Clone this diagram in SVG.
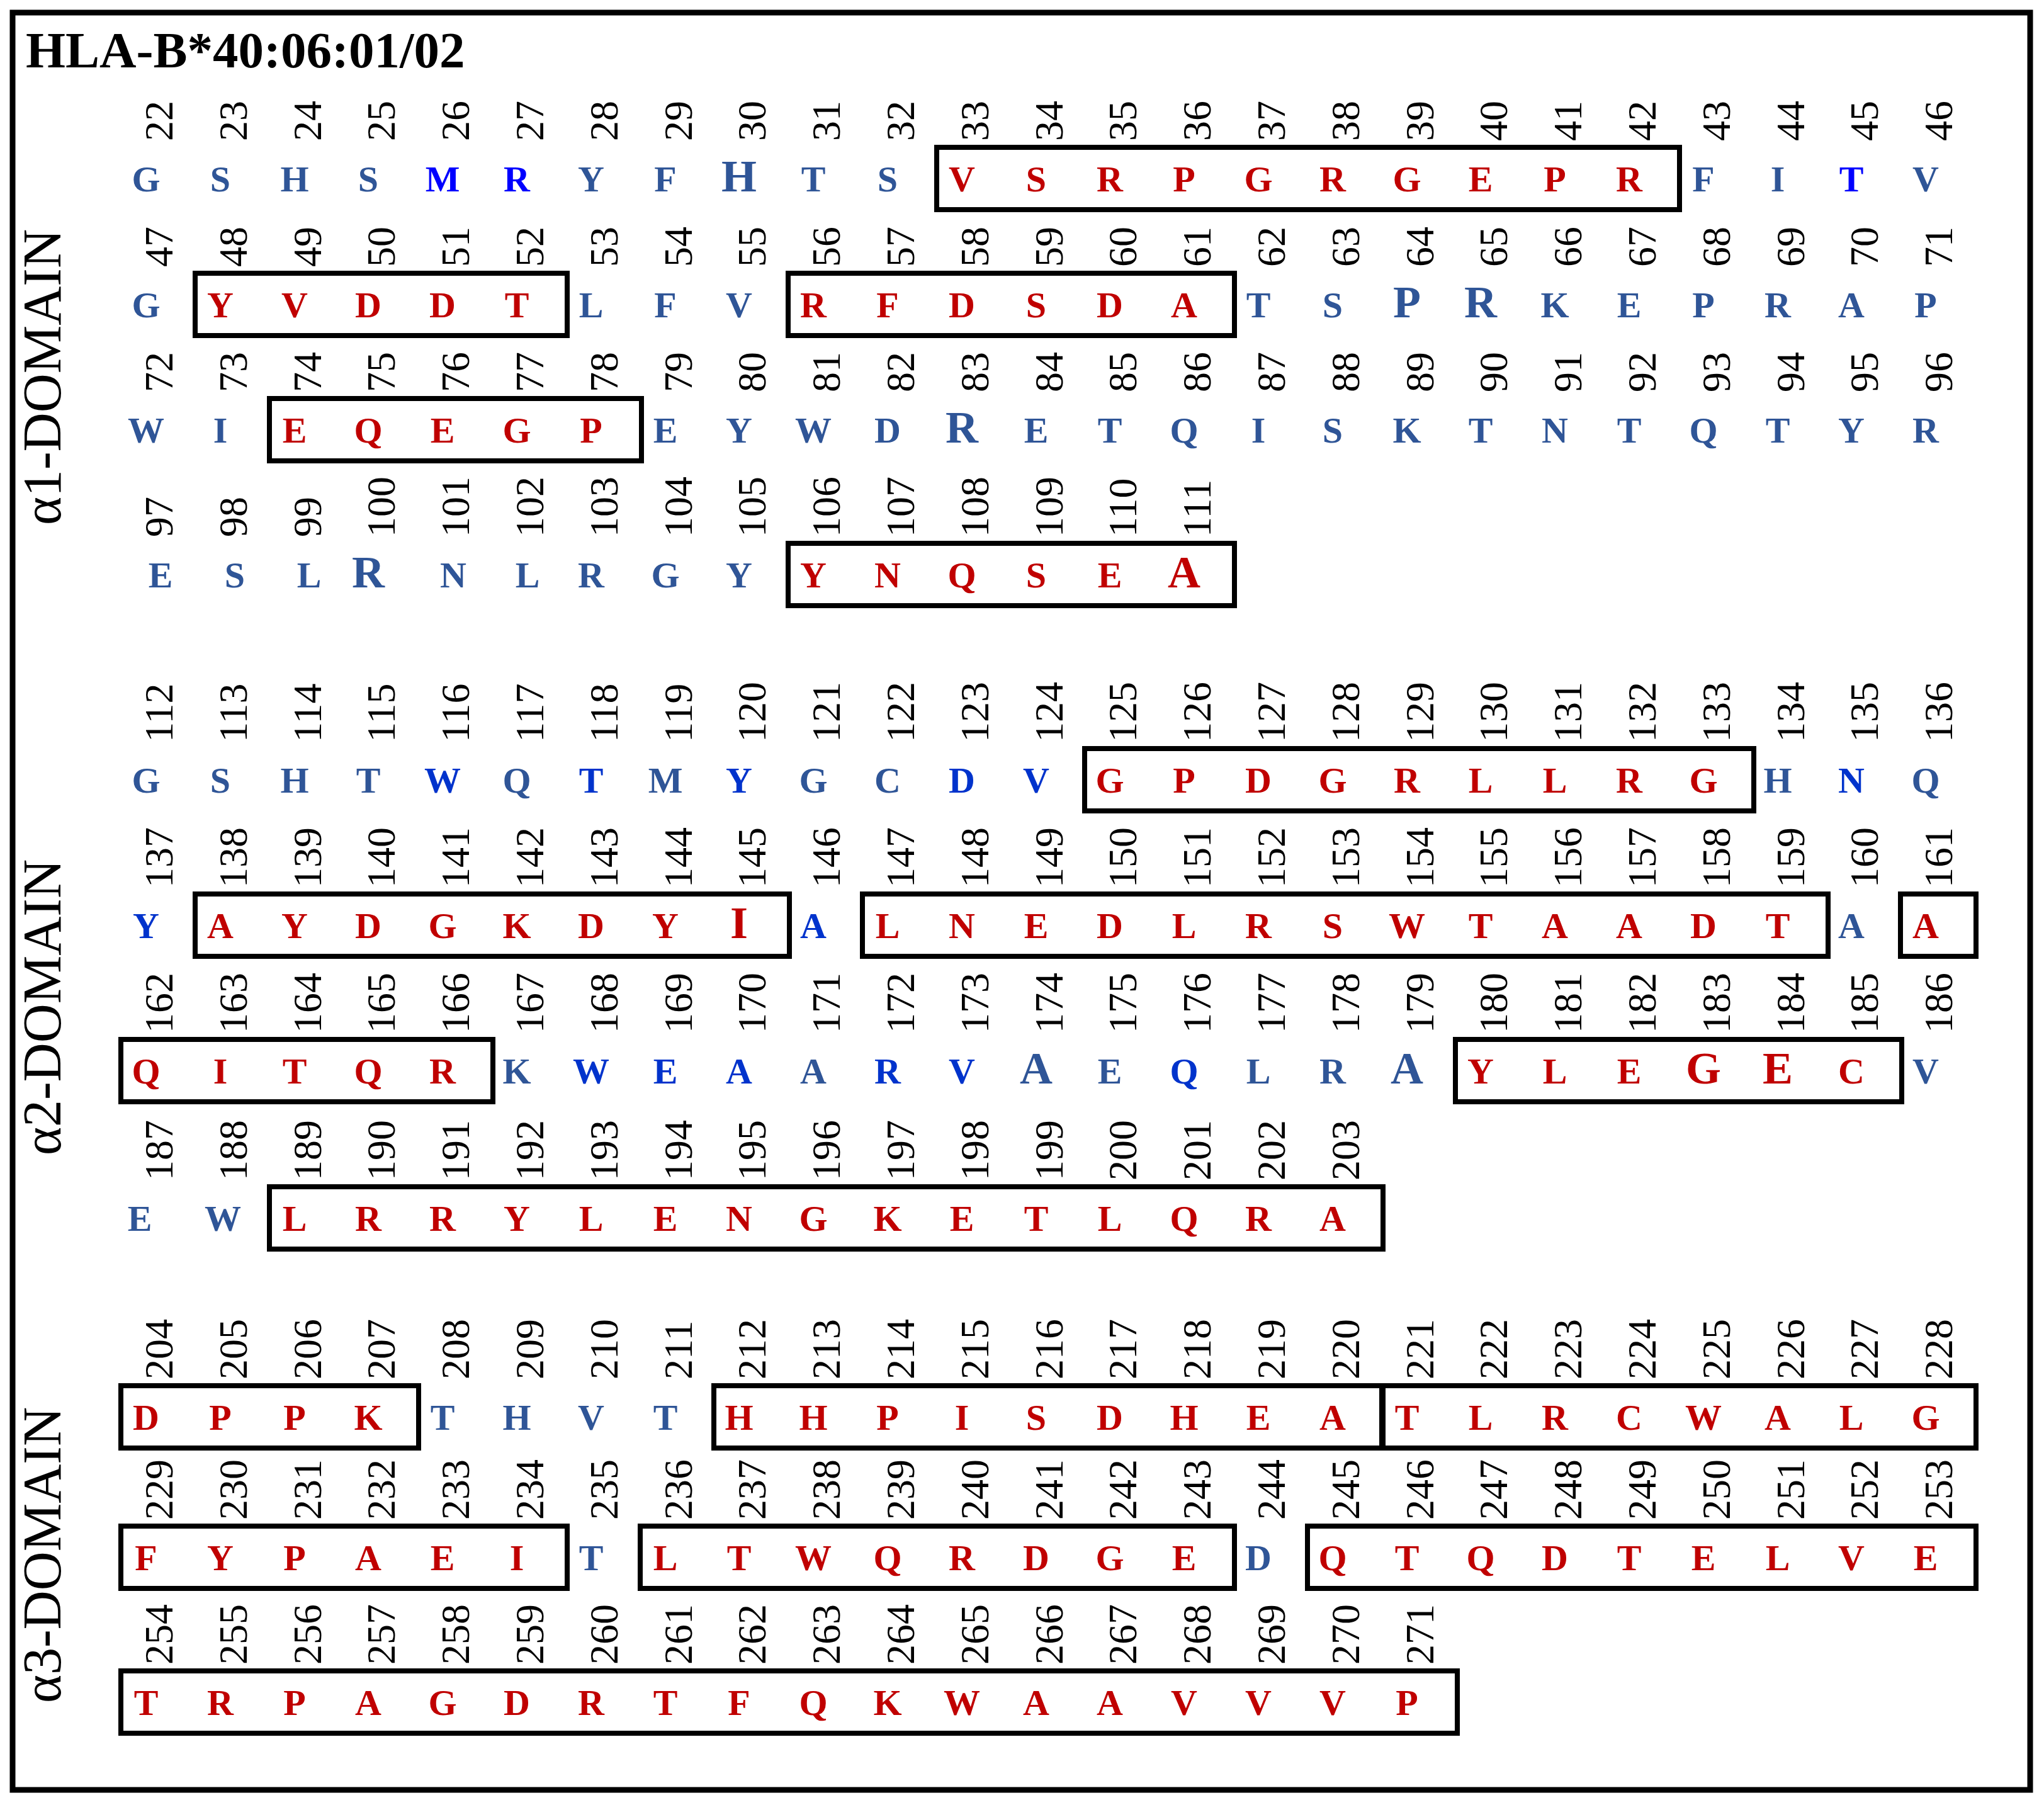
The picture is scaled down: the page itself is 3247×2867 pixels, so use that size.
<svg xmlns="http://www.w3.org/2000/svg" width="3247" height="2867" viewBox="0 0 3247 2867">
<style>
.l{font-family:"Liberation Serif",serif;font-weight:bold;font-size:58px;text-anchor:middle}
.L{font-size:72px}
.r{fill:#C00000}.b{fill:#2F5597}.m{fill:#0033CC}.u{fill:#0000FF}
.n{font-family:"Liberation Serif",serif;font-size:64px;fill:#000}
.bx{fill:none;stroke:#000;stroke-width:8}
.d{font-family:"Liberation Serif",serif;font-size:86px;text-anchor:middle;fill:#000}
</style>
<rect x="0" y="0" width="3247" height="2867" fill="#fff"/>
<rect x="20" y="20" width="3205" height="2823" fill="none" stroke="#000" stroke-width="9"/>
<text x="41" y="107" font-family="Liberation Serif,serif" font-weight="bold" font-size="81">HLA-B*40:06:01/02</text>
<text class="d" transform="translate(96 599) rotate(-90)">α1-DOMAIN</text>
<text class="d" transform="translate(96 1600) rotate(-90)">α2-DOMAIN</text>
<text class="d" transform="translate(96 2470) rotate(-90)">α3-DOMAIN</text>
<g id="boxes">
<rect class="bx" x="1488" y="234" width="1180" height="99"/>
<rect class="bx" x="310" y="434" width="591" height="99"/>
<rect class="bx" x="1252" y="434" width="709" height="99"/>
<rect class="bx" x="428" y="633" width="591" height="99"/>
<rect class="bx" x="1252" y="863" width="709" height="99"/>
<rect class="bx" x="1723" y="1189" width="1063" height="99"/>
<rect class="bx" x="310" y="1420" width="944" height="99"/>
<rect class="bx" x="1370" y="1420" width="1534" height="99"/>
<rect class="bx" x="3019" y="1420" width="120" height="99"/>
<rect class="bx" x="192" y="1651" width="591" height="99"/>
<rect class="bx" x="2312" y="1651" width="709" height="99"/>
<rect class="bx" x="428" y="1885" width="1769" height="99"/>
<rect class="bx" x="192" y="2201" width="473" height="99"/>
<rect class="bx" x="1134" y="2201" width="1063" height="99"/>
<rect class="bx" x="2195" y="2201" width="944" height="99"/>
<rect class="bx" x="192" y="2424" width="709" height="99"/>
<rect class="bx" x="1017" y="2424" width="944" height="99"/>
<rect class="bx" x="2077" y="2424" width="1062" height="99"/>
<rect class="bx" x="192" y="2654" width="2123" height="99"/>
</g>
<g id="a1-row1">
<g class="n">
<text transform="translate(274 224) rotate(-90)">22</text><text transform="translate(392 224) rotate(-90)">23</text><text transform="translate(510 224) rotate(-90)">24</text><text transform="translate(627 224) rotate(-90)">25</text><text transform="translate(745 224) rotate(-90)">26</text><text transform="translate(863 224) rotate(-90)">27</text><text transform="translate(981 224) rotate(-90)">28</text><text transform="translate(1099 224) rotate(-90)">29</text><text transform="translate(1216 224) rotate(-90)">30</text><text transform="translate(1334 224) rotate(-90)">31</text><text transform="translate(1452 224) rotate(-90)">32</text><text transform="translate(1570 224) rotate(-90)">33</text><text transform="translate(1688 224) rotate(-90)">34</text><text transform="translate(1805 224) rotate(-90)">35</text><text transform="translate(1923 224) rotate(-90)">36</text><text transform="translate(2041 224) rotate(-90)">37</text><text transform="translate(2159 224) rotate(-90)">38</text><text transform="translate(2277 224) rotate(-90)">39</text><text transform="translate(2394 224) rotate(-90)">40</text><text transform="translate(2512 224) rotate(-90)">41</text><text transform="translate(2630 224) rotate(-90)">42</text><text transform="translate(2748 224) rotate(-90)">43</text><text transform="translate(2866 224) rotate(-90)">44</text><text transform="translate(2983 224) rotate(-90)">45</text><text transform="translate(3101 224) rotate(-90)">46</text>
</g>
<text class="l b" x="232" y="304">G</text><text class="l b" x="350" y="304">S</text><text class="l b" x="468" y="304">H</text><text class="l b" x="585" y="304">S</text><text class="l u" x="703" y="304">M</text><text class="l u" x="821" y="304">R</text><text class="l b" x="939" y="304">Y</text><text class="l b" x="1057" y="304">F</text><text class="l b L" x="1174" y="304">H</text><text class="l b" x="1292" y="304">T</text><text class="l b" x="1410" y="304">S</text><text class="l r" x="1528" y="304">V</text><text class="l r" x="1646" y="304">S</text><text class="l r" x="1763" y="304">R</text><text class="l r" x="1881" y="304">P</text><text class="l r" x="1999" y="304">G</text><text class="l r" x="2117" y="304">R</text><text class="l r" x="2235" y="304">G</text><text class="l r" x="2352" y="304">E</text><text class="l r" x="2470" y="304">P</text><text class="l r" x="2588" y="304">R</text><text class="l b" x="2706" y="304">F</text><text class="l b" x="2824" y="304">I</text><text class="l u" x="2941" y="304">T</text><text class="l b" x="3059" y="304">V</text>
</g>
<g id="a1-row2">
<g class="n">
<text transform="translate(274 424) rotate(-90)">47</text><text transform="translate(392 424) rotate(-90)">48</text><text transform="translate(510 424) rotate(-90)">49</text><text transform="translate(627 424) rotate(-90)">50</text><text transform="translate(745 424) rotate(-90)">51</text><text transform="translate(863 424) rotate(-90)">52</text><text transform="translate(981 424) rotate(-90)">53</text><text transform="translate(1099 424) rotate(-90)">54</text><text transform="translate(1216 424) rotate(-90)">55</text><text transform="translate(1334 424) rotate(-90)">56</text><text transform="translate(1452 424) rotate(-90)">57</text><text transform="translate(1570 424) rotate(-90)">58</text><text transform="translate(1688 424) rotate(-90)">59</text><text transform="translate(1805 424) rotate(-90)">60</text><text transform="translate(1923 424) rotate(-90)">61</text><text transform="translate(2041 424) rotate(-90)">62</text><text transform="translate(2159 424) rotate(-90)">63</text><text transform="translate(2277 424) rotate(-90)">64</text><text transform="translate(2394 424) rotate(-90)">65</text><text transform="translate(2512 424) rotate(-90)">66</text><text transform="translate(2630 424) rotate(-90)">67</text><text transform="translate(2748 424) rotate(-90)">68</text><text transform="translate(2866 424) rotate(-90)">69</text><text transform="translate(2983 424) rotate(-90)">70</text><text transform="translate(3101 424) rotate(-90)">71</text>
</g>
<text class="l b" x="232" y="504">G</text><text class="l r" x="350" y="504">Y</text><text class="l r" x="468" y="504">V</text><text class="l r" x="585" y="504">D</text><text class="l r" x="703" y="504">D</text><text class="l r" x="821" y="504">T</text><text class="l b" x="939" y="504">L</text><text class="l b" x="1057" y="504">F</text><text class="l b" x="1174" y="504">V</text><text class="l r" x="1292" y="504">R</text><text class="l r" x="1410" y="504">F</text><text class="l r" x="1528" y="504">D</text><text class="l r" x="1646" y="504">S</text><text class="l r" x="1763" y="504">D</text><text class="l r" x="1881" y="504">A</text><text class="l b" x="1999" y="504">T</text><text class="l b" x="2117" y="504">S</text><text class="l b L" x="2235" y="504">P</text><text class="l b L" x="2352" y="504">R</text><text class="l b" x="2470" y="504">K</text><text class="l b" x="2588" y="504">E</text><text class="l b" x="2706" y="504">P</text><text class="l b" x="2824" y="504">R</text><text class="l b" x="2941" y="504">A</text><text class="l b" x="3059" y="504">P</text>
</g>
<g id="a1-row3">
<g class="n">
<text transform="translate(274 623) rotate(-90)">72</text><text transform="translate(392 623) rotate(-90)">73</text><text transform="translate(510 623) rotate(-90)">74</text><text transform="translate(627 623) rotate(-90)">75</text><text transform="translate(745 623) rotate(-90)">76</text><text transform="translate(863 623) rotate(-90)">77</text><text transform="translate(981 623) rotate(-90)">78</text><text transform="translate(1099 623) rotate(-90)">79</text><text transform="translate(1216 623) rotate(-90)">80</text><text transform="translate(1334 623) rotate(-90)">81</text><text transform="translate(1452 623) rotate(-90)">82</text><text transform="translate(1570 623) rotate(-90)">83</text><text transform="translate(1688 623) rotate(-90)">84</text><text transform="translate(1805 623) rotate(-90)">85</text><text transform="translate(1923 623) rotate(-90)">86</text><text transform="translate(2041 623) rotate(-90)">87</text><text transform="translate(2159 623) rotate(-90)">88</text><text transform="translate(2277 623) rotate(-90)">89</text><text transform="translate(2394 623) rotate(-90)">90</text><text transform="translate(2512 623) rotate(-90)">91</text><text transform="translate(2630 623) rotate(-90)">92</text><text transform="translate(2748 623) rotate(-90)">93</text><text transform="translate(2866 623) rotate(-90)">94</text><text transform="translate(2983 623) rotate(-90)">95</text><text transform="translate(3101 623) rotate(-90)">96</text>
</g>
<text class="l b" x="232" y="703">W</text><text class="l b" x="350" y="703">I</text><text class="l r" x="468" y="703">E</text><text class="l r" x="585" y="703">Q</text><text class="l r" x="703" y="703">E</text><text class="l r" x="821" y="703">G</text><text class="l r" x="939" y="703">P</text><text class="l b" x="1057" y="703">E</text><text class="l b" x="1174" y="703">Y</text><text class="l b" x="1292" y="703">W</text><text class="l b" x="1410" y="703">D</text><text class="l b L" x="1528" y="703">R</text><text class="l b" x="1646" y="703">E</text><text class="l b" x="1763" y="703">T</text><text class="l b" x="1881" y="703">Q</text><text class="l b" x="1999" y="703">I</text><text class="l b" x="2117" y="703">S</text><text class="l b" x="2235" y="703">K</text><text class="l b" x="2352" y="703">T</text><text class="l b" x="2470" y="703">N</text><text class="l b" x="2588" y="703">T</text><text class="l b" x="2706" y="703">Q</text><text class="l b" x="2824" y="703">T</text><text class="l b" x="2941" y="703">Y</text><text class="l b" x="3059" y="703">R</text>
</g>
<g id="a1-row4">
<g class="n">
<text transform="translate(274 853) rotate(-90)">97</text><text transform="translate(392 853) rotate(-90)">98</text><text transform="translate(510 853) rotate(-90)">99</text><text transform="translate(627 853) rotate(-90)">100</text><text transform="translate(745 853) rotate(-90)">101</text><text transform="translate(863 853) rotate(-90)">102</text><text transform="translate(981 853) rotate(-90)">103</text><text transform="translate(1099 853) rotate(-90)">104</text><text transform="translate(1216 853) rotate(-90)">105</text><text transform="translate(1334 853) rotate(-90)">106</text><text transform="translate(1452 853) rotate(-90)">107</text><text transform="translate(1570 853) rotate(-90)">108</text><text transform="translate(1688 853) rotate(-90)">109</text><text transform="translate(1805 853) rotate(-90)">110</text><text transform="translate(1923 853) rotate(-90)">111</text>
</g>
<text class="l b" x="255" y="933">E</text><text class="l b" x="373" y="933">S</text><text class="l b" x="491" y="933">L</text><text class="l b L" x="585" y="933">R</text><text class="l b" x="720" y="933">N</text><text class="l b" x="838" y="933">L</text><text class="l b" x="939" y="933">R</text><text class="l b" x="1057" y="933">G</text><text class="l b" x="1174" y="933">Y</text><text class="l r" x="1292" y="933">Y</text><text class="l r" x="1410" y="933">N</text><text class="l r" x="1528" y="933">Q</text><text class="l r" x="1646" y="933">S</text><text class="l r" x="1763" y="933">E</text><text class="l r L" x="1881" y="933">A</text>
</g>
<g id="a2-row1">
<g class="n">
<text transform="translate(274 1179) rotate(-90)">112</text><text transform="translate(392 1179) rotate(-90)">113</text><text transform="translate(510 1179) rotate(-90)">114</text><text transform="translate(627 1179) rotate(-90)">115</text><text transform="translate(745 1179) rotate(-90)">116</text><text transform="translate(863 1179) rotate(-90)">117</text><text transform="translate(981 1179) rotate(-90)">118</text><text transform="translate(1099 1179) rotate(-90)">119</text><text transform="translate(1216 1179) rotate(-90)">120</text><text transform="translate(1334 1179) rotate(-90)">121</text><text transform="translate(1452 1179) rotate(-90)">122</text><text transform="translate(1570 1179) rotate(-90)">123</text><text transform="translate(1688 1179) rotate(-90)">124</text><text transform="translate(1805 1179) rotate(-90)">125</text><text transform="translate(1923 1179) rotate(-90)">126</text><text transform="translate(2041 1179) rotate(-90)">127</text><text transform="translate(2159 1179) rotate(-90)">128</text><text transform="translate(2277 1179) rotate(-90)">129</text><text transform="translate(2394 1179) rotate(-90)">130</text><text transform="translate(2512 1179) rotate(-90)">131</text><text transform="translate(2630 1179) rotate(-90)">132</text><text transform="translate(2748 1179) rotate(-90)">133</text><text transform="translate(2866 1179) rotate(-90)">134</text><text transform="translate(2983 1179) rotate(-90)">135</text><text transform="translate(3101 1179) rotate(-90)">136</text>
</g>
<text class="l b" x="232" y="1259">G</text><text class="l b" x="350" y="1259">S</text><text class="l b" x="468" y="1259">H</text><text class="l b" x="585" y="1259">T</text><text class="l m" x="703" y="1259">W</text><text class="l b" x="821" y="1259">Q</text><text class="l m" x="939" y="1259">T</text><text class="l b" x="1057" y="1259">M</text><text class="l m" x="1174" y="1259">Y</text><text class="l b" x="1292" y="1259">G</text><text class="l b" x="1410" y="1259">C</text><text class="l m" x="1528" y="1259">D</text><text class="l m" x="1646" y="1259">V</text><text class="l r" x="1763" y="1259">G</text><text class="l r" x="1881" y="1259">P</text><text class="l r" x="1999" y="1259">D</text><text class="l r" x="2117" y="1259">G</text><text class="l r" x="2235" y="1259">R</text><text class="l r" x="2352" y="1259">L</text><text class="l r" x="2470" y="1259">L</text><text class="l r" x="2588" y="1259">R</text><text class="l r" x="2706" y="1259">G</text><text class="l b" x="2824" y="1259">H</text><text class="l m" x="2941" y="1259">N</text><text class="l b" x="3059" y="1259">Q</text>
</g>
<g id="a2-row2">
<g class="n">
<text transform="translate(274 1410) rotate(-90)">137</text><text transform="translate(392 1410) rotate(-90)">138</text><text transform="translate(510 1410) rotate(-90)">139</text><text transform="translate(627 1410) rotate(-90)">140</text><text transform="translate(745 1410) rotate(-90)">141</text><text transform="translate(863 1410) rotate(-90)">142</text><text transform="translate(981 1410) rotate(-90)">143</text><text transform="translate(1099 1410) rotate(-90)">144</text><text transform="translate(1216 1410) rotate(-90)">145</text><text transform="translate(1334 1410) rotate(-90)">146</text><text transform="translate(1452 1410) rotate(-90)">147</text><text transform="translate(1570 1410) rotate(-90)">148</text><text transform="translate(1688 1410) rotate(-90)">149</text><text transform="translate(1805 1410) rotate(-90)">150</text><text transform="translate(1923 1410) rotate(-90)">151</text><text transform="translate(2041 1410) rotate(-90)">152</text><text transform="translate(2159 1410) rotate(-90)">153</text><text transform="translate(2277 1410) rotate(-90)">154</text><text transform="translate(2394 1410) rotate(-90)">155</text><text transform="translate(2512 1410) rotate(-90)">156</text><text transform="translate(2630 1410) rotate(-90)">157</text><text transform="translate(2748 1410) rotate(-90)">158</text><text transform="translate(2866 1410) rotate(-90)">159</text><text transform="translate(2983 1410) rotate(-90)">160</text><text transform="translate(3101 1410) rotate(-90)">161</text>
</g>
<text class="l m" x="232" y="1490">Y</text><text class="l r" x="350" y="1490">A</text><text class="l r" x="468" y="1490">Y</text><text class="l r" x="585" y="1490">D</text><text class="l r" x="703" y="1490">G</text><text class="l r" x="821" y="1490">K</text><text class="l r" x="939" y="1490">D</text><text class="l r" x="1057" y="1490">Y</text><text class="l r L" x="1174" y="1490">I</text><text class="l m" x="1292" y="1490">A</text><text class="l r" x="1410" y="1490">L</text><text class="l r" x="1528" y="1490">N</text><text class="l r" x="1646" y="1490">E</text><text class="l r" x="1763" y="1490">D</text><text class="l r" x="1881" y="1490">L</text><text class="l r" x="1999" y="1490">R</text><text class="l r" x="2117" y="1490">S</text><text class="l r" x="2235" y="1490">W</text><text class="l r" x="2352" y="1490">T</text><text class="l r" x="2470" y="1490">A</text><text class="l r" x="2588" y="1490">A</text><text class="l r" x="2706" y="1490">D</text><text class="l r" x="2824" y="1490">T</text><text class="l b" x="2941" y="1490">A</text><text class="l r" x="3059" y="1490">A</text>
</g>
<g id="a2-row3">
<g class="n">
<text transform="translate(274 1641) rotate(-90)">162</text><text transform="translate(392 1641) rotate(-90)">163</text><text transform="translate(510 1641) rotate(-90)">164</text><text transform="translate(627 1641) rotate(-90)">165</text><text transform="translate(745 1641) rotate(-90)">166</text><text transform="translate(863 1641) rotate(-90)">167</text><text transform="translate(981 1641) rotate(-90)">168</text><text transform="translate(1099 1641) rotate(-90)">169</text><text transform="translate(1216 1641) rotate(-90)">170</text><text transform="translate(1334 1641) rotate(-90)">171</text><text transform="translate(1452 1641) rotate(-90)">172</text><text transform="translate(1570 1641) rotate(-90)">173</text><text transform="translate(1688 1641) rotate(-90)">174</text><text transform="translate(1805 1641) rotate(-90)">175</text><text transform="translate(1923 1641) rotate(-90)">176</text><text transform="translate(2041 1641) rotate(-90)">177</text><text transform="translate(2159 1641) rotate(-90)">178</text><text transform="translate(2277 1641) rotate(-90)">179</text><text transform="translate(2394 1641) rotate(-90)">180</text><text transform="translate(2512 1641) rotate(-90)">181</text><text transform="translate(2630 1641) rotate(-90)">182</text><text transform="translate(2748 1641) rotate(-90)">183</text><text transform="translate(2866 1641) rotate(-90)">184</text><text transform="translate(2983 1641) rotate(-90)">185</text><text transform="translate(3101 1641) rotate(-90)">186</text>
</g>
<text class="l r" x="232" y="1721">Q</text><text class="l r" x="350" y="1721">I</text><text class="l r" x="468" y="1721">T</text><text class="l r" x="585" y="1721">Q</text><text class="l r" x="703" y="1721">R</text><text class="l b" x="821" y="1721">K</text><text class="l m" x="939" y="1721">W</text><text class="l m" x="1057" y="1721">E</text><text class="l m" x="1174" y="1721">A</text><text class="l b" x="1292" y="1721">A</text><text class="l m" x="1410" y="1721">R</text><text class="l m" x="1528" y="1721">V</text><text class="l b L" x="1646" y="1721">A</text><text class="l b" x="1763" y="1721">E</text><text class="l m" x="1881" y="1721">Q</text><text class="l b" x="1999" y="1721">L</text><text class="l b" x="2117" y="1721">R</text><text class="l b L" x="2235" y="1721">A</text><text class="l r" x="2352" y="1721">Y</text><text class="l r" x="2470" y="1721">L</text><text class="l r" x="2588" y="1721">E</text><text class="l r L" x="2706" y="1721">G</text><text class="l r L" x="2824" y="1721">E</text><text class="l r" x="2941" y="1721">C</text><text class="l b" x="3059" y="1721">V</text>
</g>
<g id="a2-row4">
<g class="n">
<text transform="translate(274 1875) rotate(-90)">187</text><text transform="translate(392 1875) rotate(-90)">188</text><text transform="translate(510 1875) rotate(-90)">189</text><text transform="translate(627 1875) rotate(-90)">190</text><text transform="translate(745 1875) rotate(-90)">191</text><text transform="translate(863 1875) rotate(-90)">192</text><text transform="translate(981 1875) rotate(-90)">193</text><text transform="translate(1099 1875) rotate(-90)">194</text><text transform="translate(1216 1875) rotate(-90)">195</text><text transform="translate(1334 1875) rotate(-90)">196</text><text transform="translate(1452 1875) rotate(-90)">197</text><text transform="translate(1570 1875) rotate(-90)">198</text><text transform="translate(1688 1875) rotate(-90)">199</text><text transform="translate(1805 1875) rotate(-90)">200</text><text transform="translate(1923 1875) rotate(-90)">201</text><text transform="translate(2041 1875) rotate(-90)">202</text><text transform="translate(2159 1875) rotate(-90)">203</text>
</g>
<text class="l b" x="222" y="1955">E</text><text class="l b" x="354" y="1955">W</text><text class="l r" x="468" y="1955">L</text><text class="l r" x="585" y="1955">R</text><text class="l r" x="703" y="1955">R</text><text class="l r" x="821" y="1955">Y</text><text class="l r" x="939" y="1955">L</text><text class="l r" x="1057" y="1955">E</text><text class="l r" x="1174" y="1955">N</text><text class="l r" x="1292" y="1955">G</text><text class="l r" x="1410" y="1955">K</text><text class="l r" x="1528" y="1955">E</text><text class="l r" x="1646" y="1955">T</text><text class="l r" x="1763" y="1955">L</text><text class="l r" x="1881" y="1955">Q</text><text class="l r" x="1999" y="1955">R</text><text class="l r" x="2117" y="1955">A</text>
</g>
<g id="a3-row1">
<g class="n">
<text transform="translate(274 2191) rotate(-90)">204</text><text transform="translate(392 2191) rotate(-90)">205</text><text transform="translate(510 2191) rotate(-90)">206</text><text transform="translate(627 2191) rotate(-90)">207</text><text transform="translate(745 2191) rotate(-90)">208</text><text transform="translate(863 2191) rotate(-90)">209</text><text transform="translate(981 2191) rotate(-90)">210</text><text transform="translate(1099 2191) rotate(-90)">211</text><text transform="translate(1216 2191) rotate(-90)">212</text><text transform="translate(1334 2191) rotate(-90)">213</text><text transform="translate(1452 2191) rotate(-90)">214</text><text transform="translate(1570 2191) rotate(-90)">215</text><text transform="translate(1688 2191) rotate(-90)">216</text><text transform="translate(1805 2191) rotate(-90)">217</text><text transform="translate(1923 2191) rotate(-90)">218</text><text transform="translate(2041 2191) rotate(-90)">219</text><text transform="translate(2159 2191) rotate(-90)">220</text><text transform="translate(2277 2191) rotate(-90)">221</text><text transform="translate(2394 2191) rotate(-90)">222</text><text transform="translate(2512 2191) rotate(-90)">223</text><text transform="translate(2630 2191) rotate(-90)">224</text><text transform="translate(2748 2191) rotate(-90)">225</text><text transform="translate(2866 2191) rotate(-90)">226</text><text transform="translate(2983 2191) rotate(-90)">227</text><text transform="translate(3101 2191) rotate(-90)">228</text>
</g>
<text class="l r" x="232" y="2271">D</text><text class="l r" x="350" y="2271">P</text><text class="l r" x="468" y="2271">P</text><text class="l r" x="585" y="2271">K</text><text class="l b" x="703" y="2271">T</text><text class="l b" x="821" y="2271">H</text><text class="l b" x="939" y="2271">V</text><text class="l b" x="1057" y="2271">T</text><text class="l r" x="1174" y="2271">H</text><text class="l r" x="1292" y="2271">H</text><text class="l r" x="1410" y="2271">P</text><text class="l r" x="1528" y="2271">I</text><text class="l r" x="1646" y="2271">S</text><text class="l r" x="1763" y="2271">D</text><text class="l r" x="1881" y="2271">H</text><text class="l r" x="1999" y="2271">E</text><text class="l r" x="2117" y="2271">A</text><text class="l r" x="2235" y="2271">T</text><text class="l r" x="2352" y="2271">L</text><text class="l r" x="2470" y="2271">R</text><text class="l r" x="2588" y="2271">C</text><text class="l r" x="2706" y="2271">W</text><text class="l r" x="2824" y="2271">A</text><text class="l r" x="2941" y="2271">L</text><text class="l r" x="3059" y="2271">G</text>
</g>
<g id="a3-row2">
<g class="n">
<text transform="translate(274 2414) rotate(-90)">229</text><text transform="translate(392 2414) rotate(-90)">230</text><text transform="translate(510 2414) rotate(-90)">231</text><text transform="translate(627 2414) rotate(-90)">232</text><text transform="translate(745 2414) rotate(-90)">233</text><text transform="translate(863 2414) rotate(-90)">234</text><text transform="translate(981 2414) rotate(-90)">235</text><text transform="translate(1099 2414) rotate(-90)">236</text><text transform="translate(1216 2414) rotate(-90)">237</text><text transform="translate(1334 2414) rotate(-90)">238</text><text transform="translate(1452 2414) rotate(-90)">239</text><text transform="translate(1570 2414) rotate(-90)">240</text><text transform="translate(1688 2414) rotate(-90)">241</text><text transform="translate(1805 2414) rotate(-90)">242</text><text transform="translate(1923 2414) rotate(-90)">243</text><text transform="translate(2041 2414) rotate(-90)">244</text><text transform="translate(2159 2414) rotate(-90)">245</text><text transform="translate(2277 2414) rotate(-90)">246</text><text transform="translate(2394 2414) rotate(-90)">247</text><text transform="translate(2512 2414) rotate(-90)">248</text><text transform="translate(2630 2414) rotate(-90)">249</text><text transform="translate(2748 2414) rotate(-90)">250</text><text transform="translate(2866 2414) rotate(-90)">251</text><text transform="translate(2983 2414) rotate(-90)">252</text><text transform="translate(3101 2414) rotate(-90)">253</text>
</g>
<text class="l r" x="232" y="2494">F</text><text class="l r" x="350" y="2494">Y</text><text class="l r" x="468" y="2494">P</text><text class="l r" x="585" y="2494">A</text><text class="l r" x="703" y="2494">E</text><text class="l r" x="821" y="2494">I</text><text class="l b" x="939" y="2494">T</text><text class="l r" x="1057" y="2494">L</text><text class="l r" x="1174" y="2494">T</text><text class="l r" x="1292" y="2494">W</text><text class="l r" x="1410" y="2494">Q</text><text class="l r" x="1528" y="2494">R</text><text class="l r" x="1646" y="2494">D</text><text class="l r" x="1763" y="2494">G</text><text class="l r" x="1881" y="2494">E</text><text class="l b" x="1999" y="2494">D</text><text class="l r" x="2117" y="2494">Q</text><text class="l r" x="2235" y="2494">T</text><text class="l r" x="2352" y="2494">Q</text><text class="l r" x="2470" y="2494">D</text><text class="l r" x="2588" y="2494">T</text><text class="l r" x="2706" y="2494">E</text><text class="l r" x="2824" y="2494">L</text><text class="l r" x="2941" y="2494">V</text><text class="l r" x="3059" y="2494">E</text>
</g>
<g id="a3-row3">
<g class="n">
<text transform="translate(274 2644) rotate(-90)">254</text><text transform="translate(392 2644) rotate(-90)">255</text><text transform="translate(510 2644) rotate(-90)">256</text><text transform="translate(627 2644) rotate(-90)">257</text><text transform="translate(745 2644) rotate(-90)">258</text><text transform="translate(863 2644) rotate(-90)">259</text><text transform="translate(981 2644) rotate(-90)">260</text><text transform="translate(1099 2644) rotate(-90)">261</text><text transform="translate(1216 2644) rotate(-90)">262</text><text transform="translate(1334 2644) rotate(-90)">263</text><text transform="translate(1452 2644) rotate(-90)">264</text><text transform="translate(1570 2644) rotate(-90)">265</text><text transform="translate(1688 2644) rotate(-90)">266</text><text transform="translate(1805 2644) rotate(-90)">267</text><text transform="translate(1923 2644) rotate(-90)">268</text><text transform="translate(2041 2644) rotate(-90)">269</text><text transform="translate(2159 2644) rotate(-90)">270</text><text transform="translate(2277 2644) rotate(-90)">271</text>
</g>
<text class="l r" x="232" y="2724">T</text><text class="l r" x="350" y="2724">R</text><text class="l r" x="468" y="2724">P</text><text class="l r" x="585" y="2724">A</text><text class="l r" x="703" y="2724">G</text><text class="l r" x="821" y="2724">D</text><text class="l r" x="939" y="2724">R</text><text class="l r" x="1057" y="2724">T</text><text class="l r" x="1174" y="2724">F</text><text class="l r" x="1292" y="2724">Q</text><text class="l r" x="1410" y="2724">K</text><text class="l r" x="1528" y="2724">W</text><text class="l r" x="1646" y="2724">A</text><text class="l r" x="1763" y="2724">A</text><text class="l r" x="1881" y="2724">V</text><text class="l r" x="1999" y="2724">V</text><text class="l r" x="2117" y="2724">V</text><text class="l r" x="2235" y="2724">P</text>
</g>
</svg>
